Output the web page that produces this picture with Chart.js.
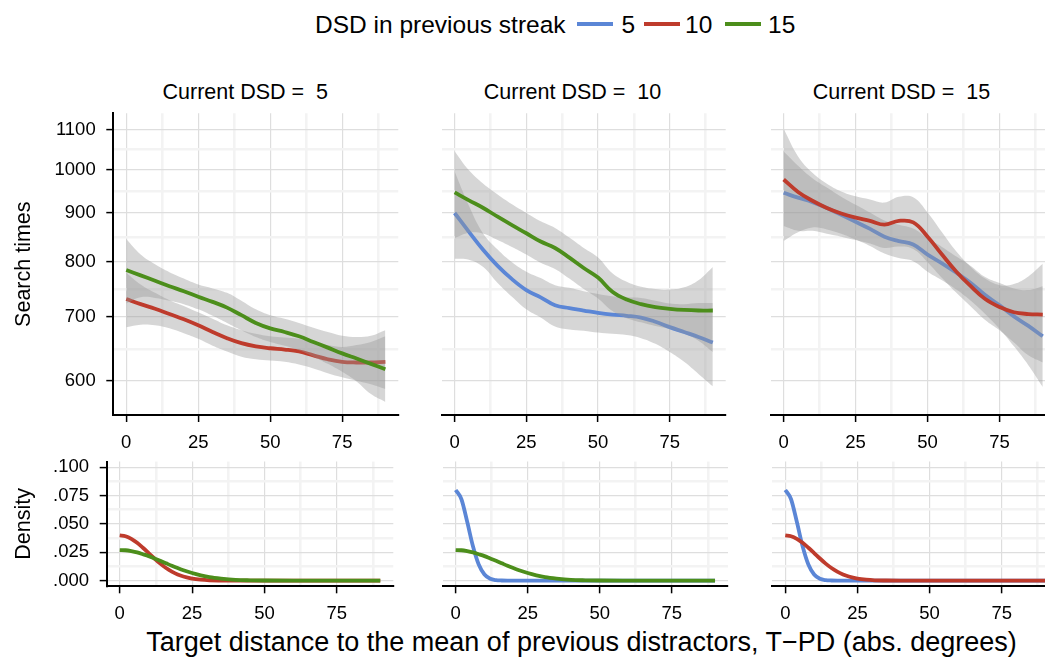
<!DOCTYPE html>
<html>
<head>
<meta charset="utf-8">
<script src="https://cdn.jsdelivr.net/npm/chart.js@4.4.1/dist/chart.umd.min.js"></script>
<style>
  html, body { margin: 0; padding: 0; background: #fff; }
  body { width: 1045px; height: 659px; overflow: hidden; position: relative;
         font-family: "Liberation Sans", Arial, Helvetica, sans-serif; color: #000; }
  .layer { position: absolute; left: 0; top: 0; }
  .txt { position: absolute; white-space: pre; }
  .swatch { position: absolute; height: 4px; }
</style>
</head>
<body>
<div class="txt" style="left:315px;top:9.8px;font-size:24.5px;line-height:30px">DSD in previous streak</div>
<div class="swatch" style="left:577px;top:21.5px;width:36px;background:#5b86d6"></div>
<div class="txt" style="left:621.5px;top:9.8px;font-size:24.5px;line-height:30px">5</div>
<div class="swatch" style="left:644px;top:21.5px;width:36px;background:#be3b2c"></div>
<div class="txt" style="left:685px;top:9.8px;font-size:24.5px;line-height:30px">10</div>
<div class="swatch" style="left:725px;top:21.5px;width:36px;background:#4c8e1b"></div>
<div class="txt" style="left:768px;top:9.8px;font-size:24.5px;line-height:30px">15</div>

<div class="txt" style="left:245.3px;top:78.8px;font-size:21.5px;line-height:26px;transform:translateX(-50%)">Current DSD =  5</div>
<div class="txt" style="left:572.5px;top:78.8px;font-size:21.5px;line-height:26px;transform:translateX(-50%)">Current DSD =  10</div>
<div class="txt" style="left:901.5px;top:78.8px;font-size:21.5px;line-height:26px;transform:translateX(-50%)">Current DSD =  15</div>

<div class="txt" style="left:581.5px;top:626px;font-size:27px;line-height:32px;transform:translateX(-50%)">Target distance to the mean of previous distractors, T−PD (abs. degrees)</div>

<script>
// ---- x positions (abs. degrees) ----
const distance = [0, 5, 10, 15, 20, 25, 30, 35, 40, 45, 50, 55, 60, 65, 70, 75, 80, 85, 90];
const densDistance = [0, 2, 4, 6, 8, 10, 12, 14, 16, 18, 20, 22, 25, 28, 31, 35, 40, 45, 50, 60, 70, 80, 90];

// ---- tick labels ----
const distanceTicks = [0, 25, 50, 75];
const distanceTickLabels = ['0', '25', '50', '75'];
const distanceMinor = [12.5, 37.5, 62.5, 87.5];
const rtTicks = [600, 700, 800, 900, 1000, 1100];
const rtTickLabels = ['600', '700', '800', '900', '1000', '1100'];
const rtMinor = [648.1, 748.3, 848.5, 948.7, 1048.8];
const densTicks = [0, 0.025, 0.05, 0.075, 0.1];
const densTickLabels = ['.000', '.025', '.050', '.075', '.100'];
const densMinor = [0.0125, 0.0375, 0.0625, 0.0875];

// ---- smoothed search times with confidence band (ms) ----
// Current DSD = 5
const rtCur5Prev10   = [731, 722, 714, 705, 696, 686, 675, 665, 657, 652, 649, 647, 644, 638, 632, 628, 627, 627, 628];
const rtCur5Prev10Hi = [779, 757, 742, 729, 719, 708, 697, 686, 678, 672, 668, 666, 664, 658, 654, 651, 654, 659, 668];
const rtCur5Prev10Lo = [683, 687, 686, 681, 673, 664, 653, 644, 636, 632, 630, 628, 624, 618, 611, 605, 600, 595, 588];
const rtCur5Prev15   = [784, 774, 764, 754, 745, 735, 726, 716, 703, 690, 681, 675, 668, 659, 650, 641, 633, 625, 617];
const rtCur5Prev15Hi = [845, 814, 795, 780, 768, 757, 750, 742, 728, 713, 703, 697, 690, 682, 675, 669, 667, 669, 678];
const rtCur5Prev15Lo = [723, 734, 733, 728, 722, 713, 702, 690, 678, 667, 659, 653, 646, 636, 625, 613, 599, 581, 570];
// Current DSD = 10
const rtCur10Prev5    = [900, 860, 823, 792, 767, 747, 734, 720, 715, 711, 707, 704, 702, 699, 692, 683, 675, 667, 658];
const rtCur10Prev5Hi  = [995, 916, 856, 824, 799, 781, 769, 756, 751, 745, 740, 736, 734, 733, 728, 723, 722, 724, 724];
const rtCur10Prev5Lo  = [806, 804, 790, 760, 735, 713, 699, 684, 679, 677, 674, 672, 670, 665, 656, 643, 628, 610, 592];
const rtCur10Prev15   = [946, 928, 911, 892, 874, 857, 840, 827, 808, 788, 770, 744, 730, 722, 717, 714, 712, 711, 711];
const rtCur10Prev15Hi = [1045, 998, 966, 941, 919, 900, 882, 868, 848, 827, 808, 778, 762, 753, 749, 748, 752, 765, 790];
const rtCur10Prev15Lo = [847, 858, 856, 843, 829, 814, 798, 786, 768, 749, 732, 710, 698, 691, 685, 680, 672, 661, 643];
// Current DSD = 15
const rtCur15Prev5    = [945, 934, 924, 911, 896, 881, 866, 850, 841, 834, 814, 797, 779, 760, 738, 720, 701, 685, 668];
const rtCur15Prev5Hi  = [1044, 1009, 979, 957, 936, 918, 901, 884, 875, 867, 847, 829, 810, 792, 771, 760, 750, 747, 754];
const rtCur15Prev5Lo  = [841, 859, 869, 865, 856, 844, 831, 816, 807, 801, 781, 765, 748, 728, 705, 680, 652, 623, 591];
const rtCur15Prev10   = [976, 947, 927, 911, 899, 890, 883, 875, 883, 880, 850, 814, 781, 754, 731, 717, 708, 705, 704];
const rtCur15Prev10Hi = [1103, 1032, 992, 966, 948, 937, 930, 923, 936, 935, 901, 859, 820, 790, 768, 756, 758, 772, 796];
const rtCur15Prev10Lo = [872, 862, 862, 856, 850, 843, 836, 827, 830, 825, 799, 769, 742, 718, 695, 678, 658, 638, 627];

// ---- density of target distance by previous DSD ----
const densPrev5  = [0.0800, 0.0718, 0.0519, 0.0303, 0.0142, 0.0054, 0.0016, 0.0004, 0.0001, 0, 0, 0, 0, 0, 0, 0, 0, 0, 0, 0, 0, 0, 0];
const densPrev10 = [0.0400, 0.0392, 0.0369, 0.0334, 0.0290, 0.0243, 0.0195, 0.0150, 0.0111, 0.0079, 0.0054, 0.0036, 0.0018, 0.0008, 0.0003, 0.0001, 0, 0, 0, 0, 0, 0, 0];
const densPrev15 = [0.0270, 0.0268, 0.0260, 0.0249, 0.0233, 0.0216, 0.0195, 0.0175, 0.0153, 0.0131, 0.0111, 0.0092, 0.0067, 0.0047, 0.0031, 0.0018, 0.0007, 0.0003, 0.0001, 0, 0, 0, 0];

// ---- styling ----
const FONT = '"Liberation Sans", Arial, Helvetica, sans-serif';
const BLUE = '#5b86d6', RED = '#be3b2c', GREEN = '#4c8e1b';
const BAND = 'rgba(153,153,153,0.4)';
const MAJOR_GRID = '#dedede', MINOR_GRID = '#f3f3f3';
const W = 1100, H = 659, X_AXIS_H = 40;

const rows = {
  rt:   { top: 113.3, bottom: 415, type: 'logarithmic', min: 552.3, max: 1145.3,
          majors: rtTicks, labels: rtTickLabels, minors: rtMinor, title: 'Search times', axisWidth: 102.2,
          xs: distance, curve: { tension: 0.4 } },
  dens: { top: 461.6, bottom: 586.3, type: 'linear', min: -0.005, max: 0.105,
          majors: densTicks, labels: densTickLabels, minors: densMinor, title: 'Density', axisWidth: 95.6,
          xs: densDistance, curve: { cubicInterpolationMode: 'monotone' } }
};

const panels = [
  { row: 'rt', left: 113.3, right: 398.3, showY: true, groups: [
      { color: RED,   y: rtCur5Prev10, hi: rtCur5Prev10Hi, lo: rtCur5Prev10Lo },
      { color: GREEN, y: rtCur5Prev15, hi: rtCur5Prev15Hi, lo: rtCur5Prev15Lo } ] },
  { row: 'rt', left: 441.7, right: 725.7, showY: false, groups: [
      { color: BLUE,  y: rtCur10Prev5,  hi: rtCur10Prev5Hi,  lo: rtCur10Prev5Lo },
      { color: GREEN, y: rtCur10Prev15, hi: rtCur10Prev15Hi, lo: rtCur10Prev15Lo } ] },
  { row: 'rt', left: 770.7, right: 1055.7, showY: false, groups: [
      { color: BLUE, y: rtCur15Prev5,  hi: rtCur15Prev5Hi,  lo: rtCur15Prev5Lo },
      { color: RED,  y: rtCur15Prev10, hi: rtCur15Prev10Hi, lo: rtCur15Prev10Lo } ] },
  { row: 'dens', left: 106.7, right: 393.3, showY: true, groups: [
      { color: RED, y: densPrev10 }, { color: GREEN, y: densPrev15 } ] },
  { row: 'dens', left: 442.7, right: 728, showY: false, groups: [
      { color: BLUE, y: densPrev5 }, { color: GREEN, y: densPrev15 } ] },
  { row: 'dens', left: 772.3, right: 1058, showY: false, groups: [
      { color: BLUE, y: densPrev5 }, { color: RED, y: densPrev10 } ] }
];

function near(a, b) { return Math.abs(a - b) <= 1e-6 * Math.max(1, Math.abs(a)); }
function isMajorOf(list, v) { return list.some(m => near(m, v)); }
function labelOf(list, labels, v) {
  const i = list.findIndex(m => near(m, v));
  return i >= 0 ? labels[i] : '';
}
function gridStyle(majors, drawTicks) {
  const major = c => c.tick ? isMajorOf(majors, c.tick.value) : true;
  return {
    color: c => major(c) ? MAJOR_GRID : MINOR_GRID,
    lineWidth: c => major(c) ? 1.2 : 2.6,
    tickColor: c => major(c) ? '#000' : 'rgba(0,0,0,0)',
    tickLength: 7,
    tickWidth: 1.5,
    drawTicks: drawTicks
  };
}
const pts = (xs, ys) => ys.map((v, i) => ({ x: xs[i], y: v }));

panels.forEach(p => {
  const row = rows[p.row];
  const canvas = document.createElement('canvas');
  canvas.width = W; canvas.height = H;
  canvas.className = 'layer';
  document.body.appendChild(canvas);

  // each group: ribbon first, then its line; later groups are drawn over earlier ones
  const datasets = [];
  const n = p.groups.length;
  p.groups.forEach((g, k) => {
    const base = (n - k) * 10;
    if (g.hi) {
      datasets.push(Object.assign({ data: pts(row.xs, g.lo), borderColor: 'rgba(0,0,0,0)', borderWidth: 0,
                      pointRadius: 0, fill: false, order: base + 2 }, row.curve));
      datasets.push(Object.assign({ data: pts(row.xs, g.hi), borderColor: 'rgba(0,0,0,0)', borderWidth: 0,
                      pointRadius: 0, fill: '-1', backgroundColor: BAND, order: base + 2 }, row.curve));
    }
    datasets.push(Object.assign({ data: pts(row.xs, g.y), borderColor: g.color, borderWidth: 3.8,
                    pointRadius: 0, fill: false, order: base + 1 }, row.curve));
  });

  const xAll = distanceTicks.concat(distanceMinor).sort((a, b) => a - b);
  const yAll = row.majors.concat(row.minors).sort((a, b) => a - b);

  new Chart(canvas, {
    type: 'line',
    data: { datasets },
    options: {
      responsive: false,
      animation: false,
      devicePixelRatio: 1,
      events: [],
      layout: { padding: {
        left: p.showY ? p.left - row.axisWidth : p.left,
        top: row.top,
        right: W - p.right,
        bottom: H - row.bottom - X_AXIS_H } },
      plugins: { legend: { display: false }, tooltip: { enabled: false }, title: { display: false } },
      scales: {
        x: {
          type: 'linear', min: -4.5, max: 94.5,
          afterBuildTicks: s => { s.ticks = xAll.map(v => ({ value: v })); s.min = -4.5; s.max = 94.5; },
          afterFit: s => { s.height = X_AXIS_H; },
          ticks: { autoSkip: false, maxRotation: 0, minRotation: 0, padding: 9.4, color: '#000',
                   font: { family: FONT, size: 18.5 },
                   callback: v => labelOf(distanceTicks, distanceTickLabels, v) },
          grid: gridStyle(distanceTicks, true),
          border: { display: true, color: '#000', width: 2 }
        },
        y: {
          type: row.type, min: row.min, max: row.max,
          afterBuildTicks: s => { s.ticks = yAll.map(v => ({ value: v })); s.min = row.min; s.max = row.max; },
          afterFit: s => { s.width = p.showY ? row.axisWidth : 0; },
          ticks: { display: p.showY, autoSkip: false, padding: 10.6, color: '#000',
                   font: { family: FONT, size: 18.5 },
                   callback: v => labelOf(row.majors, row.labels, v) },
          grid: gridStyle(row.majors, p.showY),
          border: { display: p.showY, color: '#000', width: 2 },
          title: { display: p.showY, text: row.title, color: '#000',
                   font: { family: FONT, size: 21.5 }, padding: { top: 0, bottom: 0 } }
        }
      }
    }
  });
});
</script>
</body>
</html>
